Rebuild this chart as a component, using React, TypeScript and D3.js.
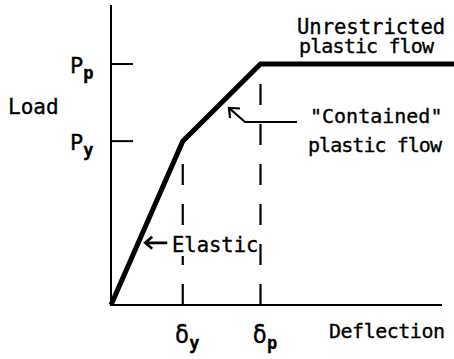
import React from "react";
import * as d3 from "d3";

// Idealised elastic–plastic load–deflection response (normalised to the plastic values)
const deflections = [0, 0.48, 1.0, 2.3];
const loads = [0, 0.68, 1.0, 1.0];

// Characteristic levels marked on the axes
const loadTickValues = [0.68, 1.0];
const loadTickSubs = ["y", "p"];
const deflectionTickValues = [0.48, 1.0];
const deflectionTickSubs = ["y", "p"];

const X_MAX = 2.214;
const Y_MAX = 1.245;

const W = 454;
const H = 359;
const FONT = "'DejaVu Sans Mono', monospace";

// slight outline so the lettering reads as pen-drawn
const ink = { fill: "#000", stroke: "#000", strokeWidth: 0.35 } as const;

export default function App() {
  const x = d3.scaleLinear().domain([0, X_MAX]).range([111, 442]);
  const y = d3.scaleLinear().domain([0, Y_MAX]).range([305, 5]);

  const pts: [number, number][] = deflections.map((d, i) => [d, loads[i]]);
  const curve = d3
    .line<[number, number]>()
    .x((d) => x(d[0]))
    .y((d) => y(d[1]))(pts) as string;

  // load on the response curve at a given deflection
  const loadAt = (d: number) => {
    for (let i = 1; i < deflections.length; i++) {
      if (d <= deflections[i]) {
        const t = (d - deflections[i - 1]) / (deflections[i] - deflections[i - 1]);
        return loads[i - 1] + t * (loads[i] - loads[i - 1]);
      }
    }
    return loads[loads.length - 1];
  };

  // "Elastic" pointer sits on the elastic branch
  const elasticLoad = 0.258;
  const elasticDefl = (elasticLoad / loads[1]) * deflections[1];
  const eTipX = x(elasticDefl) + 7;
  const eTipY = y(elasticLoad);

  const x0 = x(0);
  const y0 = y(0);

  return (
    <svg
      width={W}
      height={H}
      style={{ position: "absolute", left: 0, top: 0, background: "#fff" }}
      fontFamily={FONT}
    >
      {/* axes */}
      <line x1={x0} y1={y(Y_MAX)} x2={x0} y2={y0 + 1} stroke="#000" strokeWidth={2} />
      <line x1={x0 - 1} y1={y0} x2={x(X_MAX)} y2={y0} stroke="#000" strokeWidth={2.2} />

      {/* load ticks and labels */}
      {loadTickValues.map((v, i) => (
        <g key={"ly" + i}>
          <line x1={x0} x2={x0 + 22} y1={y(v)} y2={y(v)} stroke="#000" strokeWidth={2} />
          <text x={70} y={y(v) + 9} fontSize={22} {...ink}>
            P
            <tspan fontSize={17} dy={6} fontWeight="bold">
              {loadTickSubs[i]}
            </tspan>
          </text>
        </g>
      ))}

      {/* deflection guides and labels */}
      {deflectionTickValues.map((v, i) => (
        <g key={"dx" + i}>
          <line
            x1={x(v)}
            x2={x(v)}
            y1={y0}
            y2={y(loadAt(v))}
            stroke="#000"
            strokeWidth={2.2}
            strokeDasharray="21 19"
          />
          <text x={x(v) - 8} y={343} fontSize={24} {...ink}>
            δ
            <tspan fontSize={17} dy={6} fontWeight="bold">
              {deflectionTickSubs[i]}
            </tspan>
          </text>
        </g>
      ))}

      {/* response curve */}
      <path d={curve} fill="none" stroke="#000" strokeWidth={5} strokeLinejoin="miter" />

      {/* axis titles */}
      <text x={8} y={114} fontSize={21} {...ink}>
        Load
      </text>
      <text x={329} y={338} fontSize={20} textLength={116} lengthAdjust="spacing" {...ink}>
        Deflection
      </text>

      {/* annotations */}
      <text x={297} y={34} fontSize={20.5} {...ink}>
        Unrestricted
      </text>
      <text x={299} y={53} fontSize={20} textLength={135} lengthAdjust="spacing" {...ink}>
        plastic flow
      </text>

      <text x={310} y={123} fontSize={20} {...ink}>
        "Contained"
      </text>
      <text x={308} y={152} fontSize={20} textLength={134} lengthAdjust="spacing" {...ink}>
        plastic flow
      </text>
      <path
        d="M297,122 L245,122 L229,108 M240,108.5 L229,108 L230,118"
        fill="none"
        stroke="#000"
        strokeWidth={2.2}
      />

      <path
        d={`M${eTipX + 22},${eTipY} L${eTipX},${eTipY} M${eTipX + 7},${eTipY - 6} L${eTipX},${eTipY} L${eTipX + 7},${eTipY + 6}`}
        fill="none"
        stroke="#000"
        strokeWidth={2.6}
      />
      {/* clear the guide line behind the label */}
      <rect x={171} y={229} width={88} height={27} fill="#fff" />
      <text x={172} y={252} fontSize={20.5} {...ink}>
        Elastic
      </text>
    </svg>
  );
}
